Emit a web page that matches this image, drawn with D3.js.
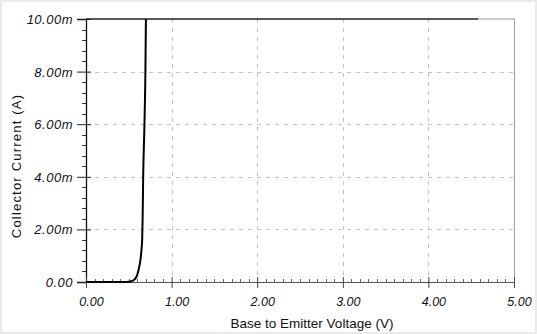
<!DOCTYPE html>
<html><head><meta charset="utf-8">
<script src="https://cdn.jsdelivr.net/npm/d3@7"></script>
<style>
html,body{margin:0;padding:0;background:#fff;}
svg{display:block;}
text{font-family:"Liberation Sans",Arial,sans-serif;fill:#111;}
</style></head>
<body>
<script>
// Data (V in volts, I in mA)
const vbe = [0, 0.45, 0.50, 0.53, 0.56, 0.59, 0.605, 0.62, 0.636, 0.648, 0.656, 0.662, 0.668, 0.683, 0.694, 0.700];
const ic  = [0, 0,    0.01, 0.03, 0.08, 0.20, 0.34,  0.55, 0.84,  1.22,  1.6,   2.5,   4.0,   6.0,   8.0,   10.0];
const xTicks = [0, 1, 2, 3, 4, 5];
const xTickLabels = ["0.00", "1.00", "2.00", "3.00", "4.00", "5.00"];
const yTicks = [0, 2, 4, 6, 8, 10];
const yTickLabels = ["0.00", "2.00m", "4.00m", "6.00m", "8.00m", "10.00m"];
const xTitle = "Base to Emitter Voltage (V)";
const yTitle = "Collector Current  (A)";

const W = 537, H = 334;
const svg = d3.select("body").append("svg").attr("width", W).attr("height", H);

// faint scan frame
svg.append("rect").attr("x", 1).attr("y", 1).attr("width", W - 2).attr("height", H - 2)
  .attr("fill", "none").attr("stroke", "#e4e4e4").attr("stroke-width", 1.5);

const x = d3.scaleLinear().domain([0, 5]).range([86, 514]);
const y = d3.scaleLinear().domain([0, 10]).range([282, 19]);

// grid
const grid = svg.append("g").attr("stroke", "#c4c4c4").attr("stroke-width", 1).attr("stroke-dasharray", "4,5");
grid.selectAll(".gx").data(xTicks.filter(d => d > 0 && d < 5)).enter().append("line")
  .attr("x1", d => Math.round(x(d)) + 0.5).attr("x2", d => Math.round(x(d)) + 0.5)
  .attr("y1", y(10)).attr("y2", y(0));
grid.selectAll(".gy").data(yTicks.filter(d => d > 0 && d < 10)).enter().append("line")
  .attr("x1", x(0)).attr("x2", x(5))
  .attr("y1", d => Math.round(y(d)) + 0.5).attr("y2", d => Math.round(y(d)) + 0.5);

// right border
svg.append("line").attr("x1", x(5) + 0.5).attr("x2", x(5) + 0.5).attr("y1", y(10)).attr("y2", y(0))
  .attr("stroke", "#a0a0a0").attr("stroke-width", 1);
// top border
svg.append("line").attr("x1", x(0)).attr("x2", x(4.58)).attr("y1", y(10)).attr("y2", y(10))
  .attr("stroke", "#222").attr("stroke-width", 1.6);
svg.append("line").attr("x1", x(4.58)).attr("x2", x(5) + 1).attr("y1", y(10)).attr("y2", y(10))
  .attr("stroke", "#999").attr("stroke-width", 1.2);

// minor ticks
const yMinor = d3.range(0, 10.001, 0.4).filter(v => Math.abs(v / 2 - Math.round(v / 2)) > 0.01);
svg.append("g").attr("stroke", "#333").attr("stroke-width", 1)
  .selectAll("line").data(yMinor).enter().append("line")
  .attr("x1", x(0) - 4).attr("x2", x(0))
  .attr("y1", d => Math.round(y(d)) + 0.5).attr("y2", d => Math.round(y(d)) + 0.5);
const xMinor = d3.range(0, 5.001, 0.1).filter(v => Math.abs(v - Math.round(v)) > 0.01);
svg.append("g").attr("stroke", "#666").attr("stroke-width", 1)
  .selectAll("line").data(xMinor).enter().append("line")
  .attr("x1", d => Math.round(x(d)) + 0.5).attr("x2", d => Math.round(x(d)) + 0.5)
  .attr("y1", y(0) - 3).attr("y2", y(0));

// axes
const yAxis = d3.axisLeft(y).tickValues(yTicks).tickFormat((d, i) => yTickLabels[i]).tickSize(9).tickPadding(4);
const gy = svg.append("g").attr("transform", `translate(${x(0)},0)`).call(yAxis);
gy.select(".domain").attr("stroke", "#111").attr("stroke-width", 1.3);
gy.selectAll(".tick line").attr("stroke", "#222").attr("x2", -9).attr("x1", 5);
gy.selectAll(".tick text").attr("font-family", "Liberation Sans, Arial, sans-serif")
  .attr("font-style", "italic").attr("font-size", 13).attr("letter-spacing", 0.5)
  .attr("fill", "#111").attr("dy", "0.35em");

const xAxis = d3.axisBottom(x).tickValues(xTicks).tickFormat((d, i) => xTickLabels[i]).tickSize(6).tickPadding(9);
const gx = svg.append("g").attr("transform", `translate(0,${y(0)})`).call(xAxis);
gx.select(".domain").attr("stroke", "#555").attr("stroke-width", 1);
gx.selectAll(".tick line").attr("stroke", "#444").attr("y1", -5).attr("y2", 6);
gx.selectAll(".tick text").attr("font-family", "Liberation Sans, Arial, sans-serif")
  .attr("font-style", "italic").attr("font-size", 12.5).attr("fill", "#111").attr("dx", 5);

// curve
const line = d3.line().x((d, i) => x(vbe[i])).y((d, i) => y(ic[i])).curve(d3.curveMonotoneX);
svg.append("path").datum(ic).attr("d", line).attr("fill", "none")
  .attr("stroke", "#000").attr("stroke-width", 2).attr("stroke-linejoin", "round");

// titles
svg.append("text").attr("x", 312).attr("y", 328).attr("text-anchor", "middle")
  .attr("font-size", 13.5).text(xTitle);
svg.append("text").attr("transform", "translate(21,166) rotate(-90)").attr("text-anchor", "middle")
  .attr("font-size", 13).attr("letter-spacing", 1.2).text(yTitle);
</script>
</body></html>
